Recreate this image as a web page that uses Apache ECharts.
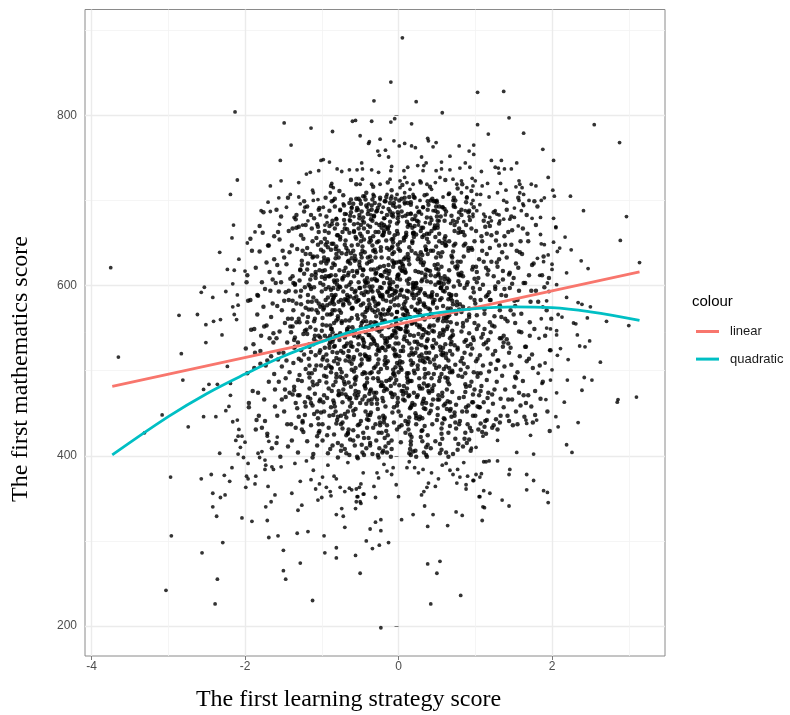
<!DOCTYPE html>
<html>
<head>
<meta charset="utf-8">
<script src="https://cdn.jsdelivr.net/npm/echarts@6/dist/echarts.min.js"></script>
<style>
  html, body { margin: 0; padding: 0; background: #fff; }
  #chart { width: 790px; height: 715px; }
</style>
</head>
<body>
<div id="chart"></div>
<script>
// axis ticks (major labelled, minor only as grid)
const xMajor = [-4, -2, 0, 2];
const xMinor = [-3, -1, 1, 3];
const yMajor = [200, 400, 600, 800];
const yMinor = [300, 500, 700, 900];

// fitted lines
const linearFit = [[-3.73, 481.5], [3.14, 616]];
const quadraticFit = [[-3.73, 401], [-3, 446], [-2.5, 473], [-2, 496], [-1.5, 517], [-1, 534], [-0.5, 549], [0, 560],
  [0.5, 568], [1, 573], [1.5, 575], [2, 574], [2.5, 569], [3.14, 559]];

// scattered students: [learning strategy score, mathematics score]
const topPoints = [[0.05,891],[-0.10,839],[-0.32,817],[0.23,816],[0.57,803],[1.03,827],[-1.49,791],[-1.14,785],[-0.86,781],[-1.40,765],[-0.60,793],[-0.56,794],[-0.35,793],[-0.10,792],[-0.05,796],[0.17,790],[1.03,789],[-0.50,776],[-0.38,769],[-0.39,767],[-0.24,772],[-0.06,770],[0.01,764],[0.08,767],[0.17,764],[0.22,762],[0.38,773],[0.39,770],[0.49,768],[0.45,763],[0.79,764],[0.98,765],[-0.27,758],[-0.25,753],[-0.17,759],[-0.13,751],[0.30,751],[0.36,744],[0.67,752],[0.56,745],[0.92,758],[0.98,754],[-1.54,747],[-1.01,747],[-0.98,748],[-0.90,745],[-0.48,744],[-0.09,740],[0.25,741],[0.33,741],[0.87,744]];

const upperBand = [[-1.20,731],[-1.15,733],[-1.04,735],[-0.80,737],[-0.74,734],[-0.64,736],[-0.54,736],[-0.47,737],[-0.35,736],[-0.26,733],[-0.10,735],[0.07,735],[0.12,739],[0.32,735],[0.49,735],[0.56,737],[0.67,736],[0.80,738],[0.93,739],
  [-1.30,721],[-1.12,712],[-1.11,709],[-0.87,720],[-0.85,715],[-0.47,725],[-0.50,719],[-0.35,719],[-0.24,719],[-0.11,725],[0.02,723],[0.08,727],[0.11,721],[0.19,719],[0.28,723],[0.37,719],[0.48,721],[0.54,727],[0.71,725],[0.76,719],[0.82,723],[0.89,715],[0.97,717],
  [-1.41,707],[-1.30,704],[-1.28,696],[-1.11,700],[-1.05,701],[-0.98,692],[-0.89,709],[-0.85,700],[-0.72,696],[-0.61,692],[-0.50,700],[-0.44,705],[-0.39,696],[-0.33,707],[-0.24,701],[-0.15,707],[-0.09,705],[-0.02,707],[0.02,715],[0.08,709],[0.15,713],[0.19,707],[0.28,700],[0.37,707],[0.43,713],[0.50,700],[0.58,704],[0.65,707],[0.71,700],[0.82,709],[0.89,704],[0.95,696],[1.02,707],[-1.46,692],[-1.22,692],[-0.76,688],[-0.68,684],[-0.55,688],[-0.41,692],[-0.20,692],[-0.04,692],[0.08,696],[0.24,692],[0.32,692],[0.45,688],[0.58,692],[0.74,692],[0.87,688],[0.97,684],
  [-1.36,680],[-1.18,676],[-1.02,683],[-0.93,674],[-0.81,679],[-0.70,672],[-0.58,681],[-0.47,676],[-0.36,683],[-0.29,673],[-0.18,679],[-0.07,685],[0.00,675],[0.05,681],[0.13,672],[0.21,678],[0.30,684],[0.35,674],[0.42,680],[0.53,676],[0.61,683],[0.68,673],[0.78,679],[0.85,675],[0.92,681],[-1.25,671],[-0.64,677],[-0.12,670],[0.26,671],[0.47,671],[-0.96,671],[-0.40,671],[0.16,685],[-0.22,686],[-0.53,673]];

const leftPoints = [[-2.13,804],[-2.10,724],[-2.19,707],[-2.15,671],[-1.53,723],[-1.67,717],[-1.70,698],[-1.56,703],[-1.79,688],[-1.67,687],[-1.55,672],
  [-3.75,621],[-3.65,516],[-2.86,565],[-2.83,520],[-2.81,489],[-3.08,448],[-2.74,434],[-3.31,427],[-2.62,566],[-2.57,592],[-2.53,598],[-2.42,586],[-2.51,554],[-2.51,533],[-2.41,558],[-2.32,560],[-2.30,542],[-2.25,593],[-2.33,639],[-2.23,619],[-2.14,618],[-2.17,656],[-2.08,631],[-2.16,602],[-2.10,589],[-2.16,575],[-2.14,566],[-2.09,577],[-2.11,560],[-2.47,484],[-2.36,484],[-2.54,478],[-2.38,446],[-2.54,446],[-2.25,453],[-2.16,440],[-2.23,505],[-2.19,485],[-2.19,471],[-2.21,458],[-2.10,442],[-2.08,431],[-2.04,423],[-2.00,617],[-1.97,650],[-1.87,663],
  [-2.97,375],[-2.96,306],[-3.03,242],[-2.39,226],[-2.36,255],[-2.56,286],[-2.29,298],[-2.57,373],[-2.44,378],[-2.42,356],[-2.42,340],[-2.37,329],[-2.32,351],[-2.26,354],[-2.27,377],[-2.20,370],[-2.17,386],[-2.33,403],[-2.12,418],[-2.09,423],[-2.06,410],[-2.00,416],[-2.09,402],[-2.02,398],[-1.96,391],[-1.98,376],[-1.96,373],[-1.87,367],[-1.86,376],[-1.99,363],[-2.04,327],[-1.91,323],[-1.83,403],[-1.81,398],[-1.78,405],[-1.74,395],[-1.73,389],[-1.65,387],[-1.63,384],[-1.74,384],[-1.70,364],[-1.61,354],[-1.66,346],[-1.73,340],[-1.71,324],[-1.69,304],[-1.57,306],[-1.71,423],[-1.69,417],[-1.58,422],[-1.53,387]];

const lowerPoints = [[-0.23,198],[0.42,226],[0.81,236],[-1.12,230],[-0.50,262],[0.38,273],[0.54,276],[0.50,262],[-1.50,289],[-1.50,265],[-1.47,255],[-1.28,274],[-0.96,286],[-0.81,292],[-0.81,280],[-0.56,283],[-0.42,300],[-0.34,291],[-0.25,295],[-0.13,298],[-1.32,309],[-1.18,311],[-0.97,306],[-0.37,314],[-0.30,322],[-0.23,325],[-0.23,312],[-0.70,316],[-0.72,329],[-0.74,338],[-0.81,331],[0.04,325],[0.19,331],[0.38,317],[0.45,331],[0.64,318],[0.75,334],[0.83,330],[0.34,341],[-1.31,336],[-1.26,342],[-1.39,356],[-0.56,338],[-0.55,346],[-0.50,346],[-0.49,344],[-0.30,351],[-0.46,355],[-0.54,352],[0.00,352],[0.30,354],[0.33,358],[0.37,363],[0.39,368],[0.48,364],[0.52,373],[0.43,380],[0.76,368],[0.88,366],[0.88,361],[0.80,375],[0.77,384],[0.90,376],[0.98,371],[1.05,352],[-1.05,348],[-1.00,351],[-0.88,353],[-0.89,358],[-0.94,363],[-1.08,361],[-1.28,370],[-1.14,372],[-1.11,383],[-1.03,367],[-0.99,375],[-0.84,376],[-0.81,373],[-0.76,363],[-0.70,358],[-0.64,362],[-0.61,360],[-0.55,361],[-0.51,363],[-0.49,367],[-0.53,352],[-0.45,355],[-0.28,380],[-0.26,374],[-0.32,364],[-0.46,380],[-0.09,378],[-0.03,366],[-0.07,386],[-0.15,382],[0.21,386],[0.32,384],[0.26,380],[0.11,386],[0.62,391],[0.67,383],[0.71,378],
  [-1.35,391],[-0.92,389],[-0.66,392],[-0.19,390],[0.14,393],[0.57,389],[-1.20,394],[0.85,392]];

const rightPoints = [[1.37,828],[1.44,797],[1.17,778],[1.63,779],[2.55,789],[2.88,768],[1.88,760],[2.02,747],[1.21,747],[1.34,747],[1.54,744],[1.26,739],[1.30,738],[1.38,737],[1.47,737],[1.31,732],[1.08,734],[1.95,727],[0.96,726],[1.00,723],[1.16,720],[1.09,717],[1.33,720],[1.57,723],[1.58,719],[1.53,716],[1.61,715],[1.73,719],[1.79,717],[1.40,712],[2.01,712],[2.03,705],[2.24,705],[1.07,707],[1.18,704],[1.29,709],[1.58,709],[1.63,707],[1.90,703],[1.86,700],[1.70,700],[1.57,700],[1.62,696],[1.37,700],[1.41,698],[0.97,700],[1.06,695],[1.51,691],[2.41,688],[2.97,681],[1.60,688],[1.63,694],[1.26,688],[1.28,684],[1.31,683],[1.02,688],[1.11,684],[1.13,681],[1.19,680],[1.21,676],[1.17,674],[1.45,678],[1.51,680],[1.74,679],[1.85,680],[2.02,679],[1.32,676],[1.37,678],[0.97,681],[1.56,670],[2.05,669],
  [2.89,653],[3.14,627],[2.17,657],[2.25,642],[2.38,629],[2.47,620],[2.19,615],[2.05,668],[2.02,651],[2.07,640],[2.10,644],[1.86,649],[1.90,648],[1.81,632],[1.89,628],[2.00,625],[2.00,619],[1.94,603],[1.96,593],[2.06,601],[2.19,586],[2.34,580],[2.39,578],[2.50,575],[2.08,566],[2.13,563],[2.46,562],[2.71,558],[3.00,553],[2.28,556],[2.31,555],[2.06,547],[2.06,542],[1.93,550],[1.98,549],[2.33,542],[2.49,535],[2.36,529],[2.43,528],[2.11,526],[2.21,513],[2.63,510],[2.07,518],[2.00,501],[2.42,492],[2.52,489],[2.20,489],[1.98,489],[1.87,485],[2.39,477],[2.06,474],[2.16,463],[1.92,466],[2.86,466],[2.85,463],[3.10,469],[2.05,446],[2.08,434],[2.34,439],[1.80,442],[1.66,442],[1.67,438],[1.72,424],
  [1.84,612],[1.88,575],[1.83,538],[1.91,509],[1.85,660],[1.95,636],[1.82,497],[1.93,582],[1.86,561],[1.97,524],
  [2.19,413],[2.26,404],[1.54,404],[1.76,402],[1.29,418],[1.29,394],[1.11,393],[1.14,393],[1.18,394],[1.45,384],[1.44,378],[1.67,378],[1.76,371],[1.67,360],[1.89,359],[1.94,357],[1.95,345],[1.35,348],[1.44,341],[1.11,359],[1.19,356],[1.06,352],[1.10,340],[1.12,339],[1.09,324],[1.01,378],[1.08,379],[1.06,375],[0.97,371],[0.95,409],[1.01,410],[1.10,423]];

// dense cloud, by strips of the strategy score
const coreLeft = [[-1.97,612],[-1.92,548],[-1.88,503],[-1.95,462],[-1.83,588],[-1.86,431],[-1.99,526],[-1.81,640],[-1.90,476],[-1.84,566],[-1.93,655],[-1.82,447],[-1.96,582],[-1.87,521],
  [-1.78,604],[-1.72,553],[-1.66,517],[-1.75,466],[-1.62,631],[-1.69,487],[-1.79,541],[-1.64,579],[-1.71,426],[-1.61,458],[-1.77,662],[-1.68,616],[-1.73,506],[-1.63,544],[-1.76,575],[-1.65,409],[-1.70,647],[-1.62,496],[-1.74,441],[-1.67,594],[-1.80,523],[-1.60,603],
  [-1.58,624],[-1.52,571],[-1.45,533],[-1.41,608],[-1.56,487],[-1.49,452],[-1.43,664],[-1.55,546],[-1.47,592],[-1.59,415],[-1.42,498],[-1.51,641],[-1.44,561],[-1.57,513],[-1.48,478],[-1.53,604],[-1.40,437],[-1.46,625],[-1.54,399],[-1.41,552],[-1.50,521],[-1.58,576],[-1.43,583],[-1.55,654],[-1.47,469],[-1.52,505],[-1.44,411],[-1.59,538],[-1.49,633],[-1.42,474],[-1.56,593],[-1.46,512]];

const flankLeft = [[-1.93,583],[-1.42,639],[-1.71,512],[-1.15,467],[-1.86,621],[-1.27,594],[-1.58,447],[-1.04,689],[-1.66,563],[-1.35,528],
  [-1.97,497],[-1.21,671],[-1.49,582],[-1.78,433],[-1.09,541],[-1.62,658],[-1.31,471],[-1.88,549],[-1.44,703],[-1.13,612],
  [-1.74,596],[-1.25,439],[-1.55,615],[-1.02,524],[-1.83,474],[-1.38,667],[-1.68,538],[-1.18,581],[-1.91,641],[-1.47,491],
  [-1.06,452],[-1.59,689],[-1.29,557],[-1.80,508],[-1.11,634],[-1.52,466],[-1.23,699],[-1.72,627],[-1.40,545],[-1.95,457],
  [-1.16,506],[-1.64,607],[-1.33,683],[-1.84,589],[-1.07,571],[-1.56,521],[-1.26,624],[-1.76,686],[-1.45,437],[-1.01,651],
  [-1.89,531],[-1.37,603],[-1.61,478],[-1.19,693],[-1.69,647],[-1.48,556],[-1.12,487],[-1.81,670],[-1.30,514],[-1.57,663],
  [-1.03,429],[-1.75,552],[-1.43,594],[-1.22,448],[-1.63,533],[-1.98,604],[-1.34,462],[-1.10,598],[-1.53,681],[-1.85,442]];

const coreM13 = [[-1.38,611],[-1.33,557],[-1.27,524],[-1.22,598],[-1.36,481],[-1.30,446],[-1.24,655],[-1.35,539],[-1.28,587],[-1.39,418],[-1.21,502],[-1.32,643],[-1.25,566],[-1.37,509],[-1.29,471],[-1.23,614],[-1.34,433],[-1.26,629],[-1.31,404],[-1.20,548],[-1.36,527],[-1.27,578],[-1.22,463],[-1.33,668],[-1.29,495],[-1.38,582],[-1.24,428],[-1.35,601],[-1.21,637],[-1.30,561],[-1.26,488],[-1.39,647],[-1.23,519],[-1.32,456],[-1.28,619],[-1.37,571],[-1.25,441],[-1.34,593],[-1.21,574],[-1.31,533],[-1.27,659],[-1.36,477],[-1.24,543],[-1.38,552],[-1.29,606],
  [-1.34,678],[-1.26,431],[-1.39,561],[-1.23,687],[-1.31,489],[-1.28,618],[-1.36,536],[-1.21,458],[-1.33,579],[-1.25,641],[-1.38,472],[-1.22,547],[-1.30,669],[-1.27,512],[-1.35,602]];

const coreM11 = [[-1.18,626],[-1.13,581],[-1.07,534],[-1.02,603],[-1.16,492],[-1.10,449],[-1.04,663],[-1.15,551],[-1.08,609],[-1.19,417],[-1.01,506],[-1.12,652],[-1.05,568],[-1.17,514],[-1.09,473],[-1.03,618],[-1.14,436],[-1.06,634],[-1.11,402],[-1.00,547],[-1.16,528],[-1.07,582],[-1.02,466],[-1.13,667],[-1.09,501],[-1.18,589],[-1.04,427],[-1.15,607],[-1.01,642],[-1.10,558],[-1.06,484],[-1.19,644],[-1.03,521],[-1.12,459],[-1.08,613],[-1.17,572],[-1.05,444],[-1.14,596],[-1.02,575],[-1.11,531],[-1.07,656],[-1.16,479],[-1.04,541],[-1.18,563],[-1.09,624],[-1.13,497],[-1.00,593],[-1.06,412],[-1.15,637],[-1.03,488],[-1.11,586],[-1.19,543],[-1.05,669],[-1.08,518],[-1.14,462],[-1.01,627],[-1.17,601],[-1.10,537],[-1.04,579],[-1.12,398],
  [-1.14,683],[-1.06,423],[-1.19,557],[-1.03,691],[-1.11,483],[-1.08,616],[-1.16,531],[-1.01,451],[-1.13,572],[-1.05,648],[-1.18,469],[-1.02,539],[-1.10,679],[-1.07,506],[-1.15,599],[-1.04,437],[-1.12,633],[-1.09,561],[-1.17,497],[-1.00,610],[-1.06,672],[-1.14,522],[-1.03,464],[-1.19,619],[-1.08,548]];

const coreM09 = [[-0.97,633],[-0.91,598],[-0.86,545],[-0.82,612],[-0.95,503],[-0.88,457],[-0.83,667],[-0.99,562],[-0.87,621],[-0.93,424],[-0.81,515],[-0.96,655],[-0.84,578],[-0.90,527],[-0.85,483],[-0.98,640],[-0.80,442],[-0.92,586],[-0.89,408],[-0.94,553],[-0.86,534],[-0.82,589],[-0.97,471],[-0.91,662],[-0.84,511],[-0.88,595],[-0.99,437],[-0.83,604],[-0.95,648],[-0.87,567],[-0.81,492],[-0.93,651],[-0.90,531],[-0.85,465],[-0.96,618],[-0.89,579],[-0.82,452],[-0.98,601],[-0.86,581],[-0.92,538],[-0.80,659],[-0.94,486],[-0.87,549],[-0.83,571],[-0.97,629],[-0.91,506],[-0.85,597],[-0.99,418],[-0.88,642],[-0.81,496],[-0.95,583],[-0.84,556],[-0.90,670],[-0.86,522],[-0.93,468],[-0.82,632],[-0.96,608],[-0.89,541],[-0.84,587],[-0.92,403],[-0.87,476],[-0.98,516],[-0.81,559],[-0.94,626],[-0.85,448],[-0.90,611],[-0.83,529],[-0.97,574],[-0.88,498],[-0.92,645],
  [-0.94,681],[-0.86,412],[-0.99,554],[-0.83,693],[-0.91,479],[-0.88,612],[-0.96,527],[-0.81,438],[-0.93,577],[-0.85,649],[-0.98,463],[-0.82,541],[-0.90,688],[-0.87,503],[-0.95,596],[-0.84,425],[-0.92,631],[-0.89,566],[-0.97,494],[-0.80,606],[-0.86,676],[-0.94,519],[-0.83,458],[-0.99,617],[-0.88,549],[-0.91,433],[-0.96,664],[-0.85,585],[-0.93,512],[-0.81,637],[-0.98,572],[-0.87,699],[-0.90,447],[-0.84,528],[-0.95,611]];

const coreM07 = [[-0.74,412],[-0.63,587],[-0.78,633],[-0.67,469],[-0.71,528],[-0.62,701],[-0.79,446],[-0.69,559],[-0.65,615],[-0.76,493],
  [-0.68,403],[-0.80,541],[-0.64,662],[-0.72,478],[-0.61,596],[-0.75,437],[-0.70,684],[-0.66,517],[-0.77,571],[-0.63,626],
  [-0.79,398],[-0.66,452],[-0.73,609],[-0.62,533],[-0.70,648],[-0.76,502],[-0.64,579],[-0.68,424],[-0.61,691],[-0.74,556],
  [-0.71,487],[-0.77,618],[-0.65,431],[-0.80,672],[-0.67,547],[-0.73,463],[-0.62,604],[-0.69,512],[-0.75,583],[-0.64,697],
  [-0.63,419],[-0.70,539],[-0.78,476],[-0.66,641],[-0.72,593],[-0.61,508],[-0.76,657],[-0.68,445],[-0.79,564],[-0.65,523],
  [-0.75,406],[-0.62,481],[-0.69,621],[-0.77,536],[-0.64,466],[-0.71,677],[-0.67,589],[-0.80,521],[-0.73,439],[-0.66,612],
  [-0.61,573],[-0.74,498],[-0.68,637],[-0.79,415],[-0.65,551],[-0.72,706],[-0.63,458],[-0.77,599],[-0.70,484],[-0.67,666],
  [-0.76,544],[-0.64,401],[-0.71,617],[-0.62,529],[-0.78,471],[-0.69,653],[-0.66,586],[-0.73,432],[-0.80,601],[-0.61,562],
  [-0.68,494],[-0.75,568],[-0.63,682],[-0.70,449],[-0.77,513],[-0.65,629],[-0.72,577],[-0.79,659],[-0.66,426],[-0.62,545],
  [-0.73,607],[-0.61,462],[-0.67,532],[-0.76,689],[-0.64,516],[-0.78,581],[-0.70,408],[-0.68,644],[-0.74,473],[-0.62,638]];

const coreM05 = [[-0.53,397],[-0.44,528],[-0.58,611],[-0.47,466],[-0.51,683],[-0.42,552],[-0.56,489],[-0.49,637],[-0.45,421],[-0.60,574],
  [-0.48,508],[-0.55,655],[-0.41,443],[-0.57,592],[-0.46,536],[-0.52,702],[-0.43,479],[-0.59,418],[-0.50,621],[-0.44,563],
  [-0.56,455],[-0.42,603],[-0.49,671],[-0.54,524],[-0.47,404],[-0.60,546],[-0.45,589],[-0.51,437],[-0.58,664],[-0.43,497],
  [-0.41,626],[-0.57,472],[-0.46,558],[-0.53,689],[-0.48,413],[-0.55,581],[-0.44,519],[-0.59,641],[-0.42,461],[-0.50,597],
  [-0.52,531],[-0.45,674],[-0.58,448],[-0.47,612],[-0.54,399],[-0.43,569],[-0.56,503],[-0.49,652],[-0.41,486],[-0.60,617],
  [-0.46,427],[-0.53,561],[-0.42,694],[-0.59,513],[-0.48,633],[-0.55,468],[-0.44,599],[-0.51,541],[-0.57,412],[-0.45,667],
  [-0.58,585],[-0.43,452],[-0.50,519],[-0.47,646],[-0.55,493],[-0.41,609],[-0.53,436],[-0.46,705],[-0.60,551],[-0.49,577],
  [-0.44,482],[-0.51,624],[-0.57,547],[-0.42,409],[-0.48,591],[-0.56,657],[-0.45,533],[-0.52,475],[-0.59,696],[-0.43,604],
  [-0.49,441],[-0.54,615],[-0.41,571],[-0.58,499],[-0.46,680],[-0.53,423],[-0.47,538],[-0.44,639],[-0.55,587],[-0.50,462],
  [-0.42,517],[-0.59,430],[-0.48,658],[-0.52,583],[-0.45,401],[-0.57,629],[-0.43,545],[-0.54,691],[-0.50,506],[-0.47,566],
  [-0.56,594],[-0.44,470],[-0.51,679],[-0.60,528],[-0.46,619],[-0.41,433],[-0.53,648],[-0.48,556],[-0.57,484],[-0.43,701]];

const coreM03 = [[-0.34,402],[-0.25,546],[-0.38,628],[-0.22,483],[-0.31,697],[-0.27,571],[-0.36,451],[-0.23,612],[-0.29,519],[-0.40,663],
  [-0.26,427],[-0.33,584],[-0.21,659],[-0.37,497],[-0.28,606],[-0.35,539],[-0.24,703],[-0.39,465],[-0.30,576],[-0.22,633],
  [-0.37,415],[-0.23,562],[-0.32,681],[-0.27,508],[-0.40,592],[-0.25,445],[-0.34,647],[-0.21,527],[-0.38,553],[-0.29,474],
  [-0.24,598],[-0.36,531],[-0.30,437],[-0.22,668],[-0.33,491],[-0.27,620],[-0.39,583],[-0.26,398],[-0.35,694],[-0.31,557],
  [-0.28,461],[-0.21,589],[-0.38,516],[-0.33,641],[-0.25,409],[-0.37,574],[-0.29,687],[-0.23,502],[-0.35,607],[-0.40,448],
  [-0.32,535],[-0.26,652],[-0.39,421],[-0.24,567],[-0.30,614],[-0.36,478],[-0.22,541],[-0.34,676],[-0.27,455],[-0.38,599],
  [-0.21,404],[-0.35,629],[-0.28,548],[-0.40,513],[-0.25,671],[-0.31,469],[-0.37,656],[-0.23,587],[-0.33,433],[-0.29,615],
  [-0.36,557],[-0.22,486],[-0.34,701],[-0.27,594],[-0.39,542],[-0.24,439],[-0.32,619],[-0.26,663],[-0.30,505],[-0.38,578],
  [-0.25,523],[-0.37,412],[-0.23,645],[-0.31,581],[-0.35,466],[-0.28,688],[-0.40,604],[-0.21,558],[-0.33,537],[-0.27,491],
  [-0.30,639],[-0.38,473],[-0.26,513],[-0.34,593],[-0.22,427],[-0.36,678],[-0.29,564],[-0.24,622],[-0.39,442],[-0.32,705],
  [-0.23,482],[-0.31,569],[-0.37,634],[-0.27,401],[-0.33,658],[-0.21,611],[-0.35,498],[-0.28,530],[-0.40,684],[-0.25,591],
  [-0.34,549],[-0.29,418],[-0.22,597],[-0.38,651],[-0.26,526]];

const coreM01 = [[-0.14,668],[-0.05,524],[-0.18,616],[-0.02,459],[-0.11,574],[-0.07,694],[-0.16,488],[-0.03,627],[-0.09,553],[-0.20,406],
  [-0.06,639],[-0.13,571],[-0.01,468],[-0.17,699],[-0.08,542],[-0.15,609],[-0.04,504],[-0.19,662],[-0.10,581],[-0.02,431],
  [-0.17,479],[-0.03,556],[-0.12,529],[-0.07,651],[-0.20,447],[-0.05,594],[-0.14,511],[-0.01,686],[-0.18,566],[-0.09,418],
  [-0.04,561],[-0.16,704],[-0.10,399],[-0.02,586],[-0.13,624],[-0.07,496],[-0.19,671],[-0.06,439],[-0.15,534],[-0.11,601],
  [-0.08,451],[-0.01,611],[-0.18,507],[-0.13,690],[-0.05,577],[-0.17,411],[-0.09,644],[-0.03,519],[-0.15,592],[-0.20,464],
  [-0.12,603],[-0.06,457],[-0.19,679],[-0.04,546],[-0.10,482],[-0.16,618],[-0.02,569],[-0.14,424],[-0.07,655],[-0.18,538],
  [-0.01,612],[-0.15,436],[-0.08,589],[-0.20,659],[-0.05,472],[-0.11,675],[-0.17,516],[-0.03,551],[-0.13,632],[-0.09,408],
  [-0.16,582],[-0.02,509],[-0.14,666],[-0.07,622],[-0.19,443],[-0.04,544],[-0.12,597],[-0.06,697],[-0.10,491],[-0.18,559],
  [-0.05,494],[-0.17,532],[-0.03,562],[-0.11,607],[-0.15,683],[-0.08,469],[-0.20,584],[-0.01,648],[-0.13,415],[-0.07,526],
  [-0.10,702],[-0.18,445],[-0.06,626],[-0.14,567],[-0.02,673],[-0.16,429],[-0.09,596],[-0.04,517],[-0.19,476],[-0.12,642],
  [-0.03,593],[-0.11,687],[-0.17,535],[-0.07,501],[-0.13,614],[-0.01,661],[-0.15,404],[-0.08,637],[-0.20,572],[-0.05,485],
  [-0.14,528],[-0.09,654],[-0.02,599],[-0.18,421],[-0.06,547]];

const coreP01 = [[0.07,578],[0.15,425],[0.02,641],[0.11,493],[0.18,556],[0.04,687],[0.13,470],[0.09,615],[0.00,532],[0.16,401],
  [0.12,567],[0.05,625],[0.17,422],[0.01,483],[0.14,704],[0.08,540],[0.19,596],[0.03,447],[0.10,659],[0.16,512],
  [0.04,501],[0.18,668],[0.09,441],[0.13,593],[0.00,550],[0.15,408],[0.06,528],[0.11,675],[0.02,607],[0.17,459],
  [0.19,601],[0.08,465],[0.14,645],[0.03,523],[0.11,585],[0.16,417],[0.01,693],[0.10,562],[0.06,476],[0.13,630],
  [0.02,621],[0.12,490],[0.07,656],[0.17,507],[0.05,573],[0.14,403],[0.09,616],[0.00,452],[0.18,678],[0.11,535],
  [0.15,671],[0.03,416],[0.10,545],[0.19,603],[0.06,472],[0.12,637],[0.01,517],[0.16,698],[0.08,565],[0.13,431],
  [0.09,581],[0.17,555],[0.04,702],[0.13,440],[0.00,613],[0.11,497],[0.18,650],[0.06,523],[0.15,456],[0.02,589],
  [0.14,608],[0.01,700],[0.11,479],[0.07,537],[0.19,661],[0.04,595],[0.16,413],[0.10,551],[0.03,628],[0.12,486],
  [0.06,466],[0.18,591],[0.00,643],[0.15,542],[0.09,427],[0.12,684],[0.03,503],[0.17,575],[0.08,619],[0.14,445],
  [0.11,570],[0.05,510],[0.16,695],[0.02,549],[0.13,633],[0.19,405],[0.07,587],[0.10,662],[0.01,434],[0.17,521],
  [0.08,703],[0.15,488],[0.03,560],[0.18,652],[0.12,437],[0.06,623],[0.14,532],[0.00,683],[0.10,474],[0.19,598]];

const coreP03 = [[0.27,491],[0.35,613],[0.21,557],[0.31,444],[0.38,699],[0.24,526],[0.33,467],[0.29,631],[0.20,585],[0.36,410],
  [0.32,624],[0.25,569],[0.37,515],[0.22,682],[0.34,435],[0.28,594],[0.39,476],[0.23,660],[0.30,539],[0.36,401],
  [0.24,554],[0.38,689],[0.29,422],[0.33,577],[0.20,500],[0.35,646],[0.26,531],[0.31,607],[0.22,450],[0.37,399],
  [0.39,695],[0.28,581],[0.34,510],[0.23,602],[0.31,461],[0.36,545],[0.21,670],[0.30,429],[0.26,616],[0.33,485],
  [0.22,521],[0.32,562],[0.27,443],[0.37,655],[0.25,506],[0.34,591],[0.29,639],[0.20,474],[0.38,537],[0.31,417],
  [0.35,610],[0.23,437],[0.30,519],[0.39,587],[0.26,675],[0.32,464],[0.21,534],[0.36,619],[0.28,479],[0.33,404],
  [0.29,664],[0.37,482],[0.24,597],[0.33,456],[0.20,704],[0.31,549],[0.38,413],[0.26,635],[0.35,496],[0.22,571],
  [0.34,560],[0.21,599],[0.31,430],[0.27,584],[0.39,651],[0.24,469],[0.36,527],[0.30,615],[0.23,399],[0.32,542],
  [0.26,543],[0.38,424],[0.20,657],[0.35,575],[0.29,627],[0.32,511],[0.23,447],[0.37,680],[0.28,566],[0.34,492],
  [0.31,636],[0.25,471],[0.36,642],[0.22,406],[0.33,579],[0.39,514],[0.27,687],[0.30,530],[0.21,460],[0.37,605],
  [0.28,553],[0.35,455],[0.23,589],[0.32,668],[0.25,502]];

const coreP05 = [[0.47,668],[0.55,524],[0.41,617],[0.51,456],[0.58,576],[0.44,702],[0.53,488],[0.49,633],[0.40,551],[0.56,407],
  [0.52,638],[0.45,581],[0.57,470],[0.42,700],[0.54,544],[0.48,611],[0.59,502],[0.43,664],[0.50,589],[0.56,432],
  [0.44,479],[0.58,558],[0.49,532],[0.53,652],[0.40,450],[0.55,597],[0.46,513],[0.51,686],[0.42,567],[0.57,420],
  [0.59,562],[0.48,699],[0.54,403],[0.43,588],[0.51,625],[0.56,496],[0.41,673],[0.50,442],[0.46,536],[0.53,603],
  [0.42,453],[0.52,612],[0.47,507],[0.57,692],[0.45,579],[0.54,414],[0.49,646],[0.40,521],[0.58,594],[0.51,466],
  [0.55,604],[0.43,460],[0.50,681],[0.59,546],[0.46,483],[0.52,619],[0.41,572],[0.56,426],[0.48,657],[0.53,540],
  [0.49,620],[0.57,438],[0.44,592],[0.53,661],[0.40,474],[0.51,676],[0.58,518],[0.46,553],[0.55,634],[0.42,409],
  [0.54,583],[0.41,510],[0.51,668],[0.47,624],[0.59,444],[0.44,547],[0.56,599],[0.50,698],[0.43,491],[0.52,562],
  [0.46,496],[0.58,542],[0.40,563],[0.55,609],[0.49,693],[0.52,471],[0.43,586],[0.57,650],[0.48,417],[0.54,528],
  [0.51,448],[0.45,527],[0.56,585],[0.42,641],[0.53,505]];

const coreP07 = [[0.71,402],[0.63,549],[0.77,623],[0.66,484],[0.60,690],[0.74,570],[0.68,455],[0.79,612],[0.62,520],[0.73,664],
  [0.65,427],[0.76,577],[0.61,658],[0.70,500],[0.78,605],[0.67,538],[0.72,695],[0.64,464],[0.75,567],[0.69,635],
  [0.78,414],[0.62,562],[0.69,682],[0.74,507],[0.66,590],[0.60,443],[0.72,647],[0.77,525],[0.64,552],[0.70,475],
  [0.63,597],[0.73,530],[0.67,435],[0.79,667],[0.61,492],[0.76,620],[0.70,582],[0.65,399],[0.74,700],[0.68,557],
  [0.75,460],[0.68,588],[0.62,515],[0.71,640],[0.77,407],[0.64,573],[0.79,686],[0.66,503],[0.60,607],[0.73,447],
  [0.69,534],[0.61,651],[0.74,420],[0.66,565],[0.78,614],[0.63,478],[0.71,542],[0.76,675],[0.67,453],[0.72,599],
  [0.62,404],[0.77,628],[0.70,547],[0.65,512],[0.73,671],[0.79,468],[0.60,655],[0.68,585],[0.75,432],[0.64,608],
  [0.76,555],[0.64,487],[0.72,693],[0.60,593],[0.69,540],[0.74,439],[0.66,618],[0.78,662],[0.62,505],[0.71,578],
  [0.67,523],[0.75,589],[0.61,461],[0.70,627],[0.78,494]];

const coreP09 = [[0.84,411],[0.92,563],[0.81,628],[0.95,487],[0.88,671],[0.97,539],[0.83,452],[0.90,604],[0.86,521],[0.99,652],
  [0.93,433],[0.80,578],[0.87,497],[0.96,619],[0.82,546],[0.91,686],[0.85,469],[0.98,592],[0.89,415],[0.94,531],
  [0.81,663],[0.90,504],[0.97,447],[0.84,611],[0.92,573],[0.87,427],[0.95,644],[0.83,515],[0.99,556],[0.88,481],
  [0.86,597],[0.93,677],[0.80,441],[0.96,526],[0.91,459],[0.85,634],[0.98,498],[0.82,569],[0.89,703],[0.94,586],
  [0.92,419],[0.84,552],[0.97,622],[0.87,475],[0.81,511],[0.95,667],[0.90,437],[0.86,659],[0.99,583],[0.83,493],
  [0.88,536],[0.94,406],[0.82,615],[0.96,463],[0.91,641],[0.85,508],[0.98,692],[0.89,559],[0.93,482],[0.80,601],
  [0.87,649],[0.95,429],[0.84,575],[0.90,529],[0.97,472],[0.82,689],[0.92,544],[0.86,420],[0.99,608],[0.88,457]];

const coreRight = [[1.04,431],[1.12,567],[1.01,622],[1.15,489],[1.08,658],[1.17,536],[1.03,458],[1.10,601],[1.06,518],[1.19,644],
  [1.13,441],[1.00,579],[1.07,497],[1.16,613],[1.02,549],[1.11,676],[1.05,471],[1.18,592],[1.09,428],[1.14,533],
  [1.01,664],[1.10,506],[1.17,452],[1.04,609],[1.12,572],[1.07,438],[1.15,637],[1.03,514],[1.19,557],[1.08,482],
  [1.06,596],[1.13,669],[1.00,447],[1.16,526],[1.11,463],[1.05,631],[1.18,499],[1.02,565],[1.09,652],[1.14,587],
  [1.12,434],[1.04,553],[1.17,618],[1.07,476],[1.01,511],[1.15,661],[1.10,543],[1.06,457],[1.19,583],[1.03,493],
  [1.08,539],[1.14,426],[1.02,616],[1.16,468],[1.11,628],
  [1.24,436],[1.32,571],[1.21,628],[1.35,494],[1.28,662],[1.37,541],[1.23,461],[1.30,604],[1.26,523],[1.39,648],
  [1.33,447],[1.20,583],[1.27,502],[1.36,617],[1.22,553],[1.31,673],[1.25,478],[1.38,596],[1.29,431],[1.34,538],
  [1.21,659],[1.30,512],[1.37,457],[1.24,611],[1.32,577],[1.27,443],[1.35,639],[1.23,519],[1.39,561],[1.28,487],
  [1.26,599],[1.33,467],[1.20,545],[1.36,528],[1.31,631],[1.25,564],[1.38,505],[1.22,472],[1.29,622],[1.34,589],[1.27,653],[1.32,439],
  [1.44,441],[1.52,576],[1.41,633],[1.55,498],[1.48,665],[1.57,546],[1.43,466],[1.50,609],[1.46,527],[1.59,652],
  [1.53,452],[1.40,588],[1.47,507],[1.56,621],[1.42,558],[1.51,481],[1.45,597],[1.58,517],[1.49,436],[1.54,641],
  [1.41,537],[1.50,566],[1.57,474],[1.44,613],[1.52,493],[1.47,648],[1.55,583],[1.43,532],[1.59,459],[1.48,602],[1.46,571],[1.53,626],
  [1.64,446],[1.72,581],[1.61,637],[1.75,503],[1.68,661],[1.77,549],[1.63,471],[1.70,612],[1.66,528],[1.79,594],
  [1.73,458],[1.60,567],[1.67,511],[1.76,626],[1.62,488],[1.71,541],[1.65,603],[1.78,476],[1.69,652],[1.74,519]];

const flankRight = [[1.07,583],[1.58,639],[1.29,512],[1.85,467],[1.14,621],[1.73,594],[1.42,447],[1.96,609],[1.34,563],[1.65,528],
  [1.03,497],[1.79,671],[1.51,582],[1.22,433],[1.91,541],[1.38,658],[1.69,471],[1.12,549],[1.56,703],[1.87,612],
  [1.26,596],[1.75,439],[1.45,615],[1.98,524],[1.17,474],[1.62,667],[1.32,538],[1.82,581],[1.09,641],[1.53,491],
  [1.94,452],[1.41,689],[1.71,557],[1.20,508],[1.89,634],[1.48,466],[1.77,699],[1.28,627],[1.60,545],[1.05,457],
  [1.84,506],[1.36,607],[1.67,683],[1.16,589],[1.93,571],[1.44,521],[1.74,624],[1.24,686],[1.55,437],[1.99,561],
  [1.11,531],[1.63,603],[1.39,478],[1.81,693],[1.31,647],[1.52,556],[1.88,487],[1.19,670],[1.70,514],[1.43,663],
  [1.97,429],[1.25,552],[1.57,594],[1.78,448],[1.37,533],[1.02,604],[1.66,462],[1.90,598],[1.47,681],[1.15,442]];

const coreExtra = [[-0.83,702],[0.41,716],[-0.27,691],[0.66,708],[-0.55,719],[0.12,697],[-0.09,712],[0.88,698],[-0.71,694],[0.29,721],
  [-0.42,709],[0.53,693],[-0.95,703],[0.05,718],[0.77,714],[-0.18,699],[0.34,706],[-0.62,724],[0.95,711],[-0.33,716],
  [0.21,703],[-0.77,711],[0.61,724],[-0.04,702],[-0.49,696],[0.83,719],[-0.88,717],[0.46,699],[-0.14,721],[0.72,703],
  [-0.58,541],[0.17,488],[-0.23,612],[0.63,455],[-0.86,583],[0.38,637],[-0.05,519],[0.92,566],[-0.69,472],[0.26,591],
  [-0.37,448],[0.58,527],[-0.92,629],[0.08,574],[0.81,501],[-0.16,653],[0.44,437],[-0.64,601],[0.99,478],[-0.29,556],
  [0.14,625],[-0.79,508],[0.69,589],[-0.01,463],[-0.52,667],[0.86,534],[-0.97,452],[0.33,548],[-0.11,596],[0.55,681],
  [-0.46,579],[0.23,444],[-0.31,532],[0.74,622],[-0.81,646],[0.49,503],[-0.07,681],[0.97,597],[-0.66,427],[0.11,606],
  [-0.21,468],[0.64,563],[-0.89,534],[0.02,651],[0.79,437],[-0.13,571],[0.37,661],[-0.57,491],[0.91,644],[-0.36,619],
  [0.27,517],[-0.73,663],[0.57,474],[-0.03,539],[-0.44,606],[0.84,663],[-0.99,577],[0.43,589],[-0.19,439],[0.68,531],
  [-0.61,632],[0.09,547],[-0.26,498],[0.71,676],[-0.84,462],[0.31,479],[-0.08,629],[0.94,519],[-0.54,565],[0.19,662],
  [-0.39,688],[0.52,614],[-0.94,493],[0.04,436],[0.76,581],[-0.17,524],[0.39,573],[-0.67,549],[0.89,452],[-0.32,474],
  [0.16,457],[-0.76,598],[0.62,647],[-0.06,584],[-0.48,513],[0.81,612],[-0.87,672],[0.47,667],[-0.12,489],[0.73,451],
  [-0.59,453],[0.24,676],[-0.22,566],[0.67,498],[-0.91,611],[0.36,521],[-0.02,608],[0.96,642],[-0.72,521],[0.13,497],
  [-0.34,599],[0.59,459],[-0.82,487],[0.07,631],[0.84,556],[-0.15,644],[0.42,612],[-0.63,676],[0.98,536],[-0.28,651],
  [0.22,572],[-0.74,558],[0.56,519],[-0.09,473],[-0.51,628],[0.87,484],[-0.96,541],[0.32,692],[-0.19,603],[0.61,567],
  [-0.43,517],[0.18,589],[-0.24,436],[0.77,527],[-0.85,626],[0.45,466],[-0.04,553],[0.92,688],[-0.68,583],[0.28,446],
  [-0.12,662],[0.65,604],[-0.53,471],[0.01,507],[0.74,649],[-0.38,542],[0.35,528],[-0.78,641],[0.89,601],[-0.26,579],
  [0.09,682],[-0.61,501],[0.51,559],[-0.17,458],[-0.45,654],[0.79,572],[-0.93,566],[0.25,631],[-0.06,497],[0.69,446],
  [-0.30,633],[0.46,546],[-0.75,447],[0.14,518],[0.82,683],[-0.21,587],[0.39,483],[-0.58,672],[0.97,463],[-0.47,496],
  [0.20,541],[-0.87,649],[0.60,611],[0.00,577],[-0.35,461],[0.85,647],[-0.99,513],[0.30,605],[-0.14,538],[0.70,498]];

const coreCentre = [[-0.51,597],[0.22,638],[-0.18,512],[0.47,583],[-0.76,654],[0.04,476],[-0.35,689],[0.61,531],[-0.63,468],[0.13,602],
  [-0.27,551],[0.39,497],[-0.84,606],[-0.02,664],[0.56,622],[-0.44,483],[0.28,571],[-0.69,529],[0.08,698],[-0.12,588],
  [0.33,659],[-0.57,635],[0.18,462],[-0.31,608],[0.68,573],[-0.08,541],[-0.79,561],[0.44,529],[-0.22,673],[0.03,594],
  [-0.66,582],[0.51,671],[-0.39,527],[0.11,553],[-0.15,478],[0.64,491],[-0.88,504],[0.26,686],[-0.47,641],[0.36,462],
  [-0.06,627],[-0.73,491],[0.42,604],[-0.28,466],[0.19,519],[-0.55,702],[0.58,548],[-0.11,697],[0.02,511],[-0.41,574],
  [0.29,596],[-0.81,678],[0.07,653],[-0.36,653],[0.53,466],[-0.24,588],[0.16,684],[-0.64,559],[0.66,652],[-0.03,489],
  [-0.49,552],[0.34,502],[-0.19,623],[0.45,641],[-0.71,611],[0.10,571],[-0.32,503],[0.59,602],[-0.58,516],[0.24,534],
  [-0.09,566],[-0.85,537],[0.38,618],[-0.25,695],[0.14,471],[-0.61,647],[0.48,688],[-0.43,593],[0.70,519],[-0.16,509],
  [0.05,617],[-0.68,599],[0.27,551],[-0.37,476],[0.62,687],[-0.05,659],[-0.53,539],[0.41,553],[-0.21,527],[0.17,641],
  [-0.75,523],[0.55,597],[-0.30,663],[0.00,498],[-0.46,618],[0.31,657],[-0.13,551],[0.67,463],[-0.87,589],[0.21,497],
  [-0.62,686],[0.09,633],[-0.34,571],[0.49,517],[-0.07,604],[-0.78,472],[0.35,589],[-0.20,482],[0.63,558],[-0.50,661],
  [0.12,546],[-0.40,633],[0.57,639],[-0.27,524],[-0.01,679],[-0.66,628],[0.23,603],[-0.14,593],[0.44,476],[-0.56,476],
  [-0.23,641],[0.37,535],[-0.72,579],[0.06,566],[-0.45,498],[0.52,604],[-0.10,474],[-0.82,643],[0.30,668],[-0.33,586],
  [0.19,509],[-0.60,573],[0.65,584],[-0.17,669],[-0.38,513],[0.40,661],[-0.04,532],[-0.70,667],[0.25,579],[-0.52,604],
  [-0.29,606],[0.11,594],[-0.89,553],[0.46,563],[-0.12,617],[-0.48,687],[0.60,676],[-0.65,486],[0.03,549],[-0.37,669],
  [0.15,563],[-0.26,488],[0.70,633],[-0.56,631],[0.32,515],[-0.08,646],[-0.79,596],[0.54,492],[-0.19,664],[0.07,482],
  [-0.42,558],[0.22,617],[-0.64,511],[0.48,601],[-0.02,569],[-0.31,642],[0.36,642],[-0.83,624],[0.12,669],[-0.53,582],
  [0.27,482],[-0.11,539],[-0.74,638],[0.58,521],[-0.36,595],[0.04,618],[-0.58,663],[0.43,677],[-0.22,549],[0.17,526],
  [-0.67,543],[0.33,627],[-0.15,503],[0.61,647],[-0.46,529],[0.09,657],[-0.32,682],[-0.86,571],[0.50,574],[-0.05,591],
  [0.20,662],[-0.54,617],[0.39,544],[-0.27,578],[0.66,606],[-0.09,683],[-0.70,584],[0.28,512],[-0.41,491],[0.01,628]];

const sparseStudents = [].concat(topPoints, upperBand, leftPoints, lowerPoints, rightPoints);
const denseStudents = [].concat(coreLeft, flankLeft, coreM13, coreM11, coreM09, coreM07, coreM05, coreM03, coreM01,
  coreP01, coreP03, coreP05, coreP07, coreP09, coreRight, flankRight, coreExtra, coreCentre);

const xMin = -4.085, xMax = 3.472;
const yMin = 164.8, yMax = 924.3;

const chart = echarts.init(document.getElementById('chart'), null, { renderer: 'canvas' });

const tickColor = '#7a7a7a';
const labelFont = 'Liberation Sans';

const option = {
  animation: false,
  backgroundColor: '#ffffff',
  grid: {
    left: 85, right: 125, top: 9.5, bottom: 59,
    show: true, borderColor: '#8a8a8a', borderWidth: 1, backgroundColor: '#ffffff'
  },
  title: {
    text: 'colour', left: 692, top: 294, padding: 0,
    textStyle: { fontSize: 15, fontWeight: 'normal', color: '#000', fontFamily: labelFont }
  },
  legend: {
    orient: 'vertical', left: 696, top: 325, padding: 0,
    itemWidth: 23, itemHeight: 3, itemGap: 14.6, icon: 'rect',
    textStyle: { fontSize: 13, color: '#1a1a1a', fontFamily: labelFont, padding: [0, 0, 0, 6] },
    data: ['linear', 'quadratic']
  },
  xAxis: [
    {
      type: 'value', min: xMin, max: xMax,
      axisLine: { show: false },
      axisTick: { show: true, customValues: xMajor, length: 4, lineStyle: { color: tickColor } },
      axisLabel: { customValues: xMajor, color: '#4d4d4d', fontSize: 12, margin: 5, fontFamily: labelFont },
      splitLine: { show: true, lineStyle: { color: '#ebebeb', width: 1.4 } }
    },
    {
      type: 'value', min: xMin, max: xMax, position: 'top',
      axisLine: { show: false },
      axisTick: { show: false, customValues: xMinor },
      axisLabel: { show: false, customValues: xMinor },
      splitLine: { show: true, lineStyle: { color: '#f2f2f2', width: 0.8 } }
    }
  ],
  yAxis: [
    {
      type: 'value', min: yMin, max: yMax,
      axisLine: { show: false },
      axisTick: { show: true, customValues: yMajor, length: 4, lineStyle: { color: tickColor } },
      axisLabel: { customValues: yMajor, color: '#4d4d4d', fontSize: 12, margin: 8, fontFamily: labelFont },
      splitLine: { show: true, lineStyle: { color: '#ebebeb', width: 1.4 } }
    },
    {
      type: 'value', min: yMin, max: yMax, position: 'right',
      axisLine: { show: false },
      axisTick: { show: false, customValues: yMinor },
      axisLabel: { show: false, customValues: yMinor },
      splitLine: { show: true, lineStyle: { color: '#f2f2f2', width: 0.8 } }
    }
  ],
  graphic: [
    {
      type: 'text', x: 348.5, y: 700,
      style: { text: 'The first learning strategy score', fill: '#000', font: '24px "Liberation Serif"', align: 'center', verticalAlign: 'middle' }
    },
    {
      type: 'text', x: 21, y: 369, rotation: Math.PI / 2,
      style: { text: 'The first mathematics score', fill: '#000', font: '24px "Liberation Serif"', align: 'center', verticalAlign: 'middle' }
    }
  ],
  series: [
    {
      type: 'scatter', data: sparseStudents, symbolSize: 3.8, silent: true,
      progressive: 0, itemStyle: { color: '#000000' }
    },
    {
      type: 'scatter', data: denseStudents, symbolSize: 4.5, silent: true,
      progressive: 0, itemStyle: { color: '#000000' }
    },
    {
      name: 'linear', type: 'line', data: linearFit, showSymbol: false, silent: true,
      lineStyle: { color: '#F8766D', width: 2.8 }, itemStyle: { color: '#F8766D' }
    },
    {
      name: 'quadratic', type: 'line', data: quadraticFit, smooth: 0.4, showSymbol: false, silent: true,
      lineStyle: { color: '#00BFC4', width: 2.8 }, itemStyle: { color: '#00BFC4' }
    }
  ]
};

chart.setOption(option);
</script>
</body>
</html>
